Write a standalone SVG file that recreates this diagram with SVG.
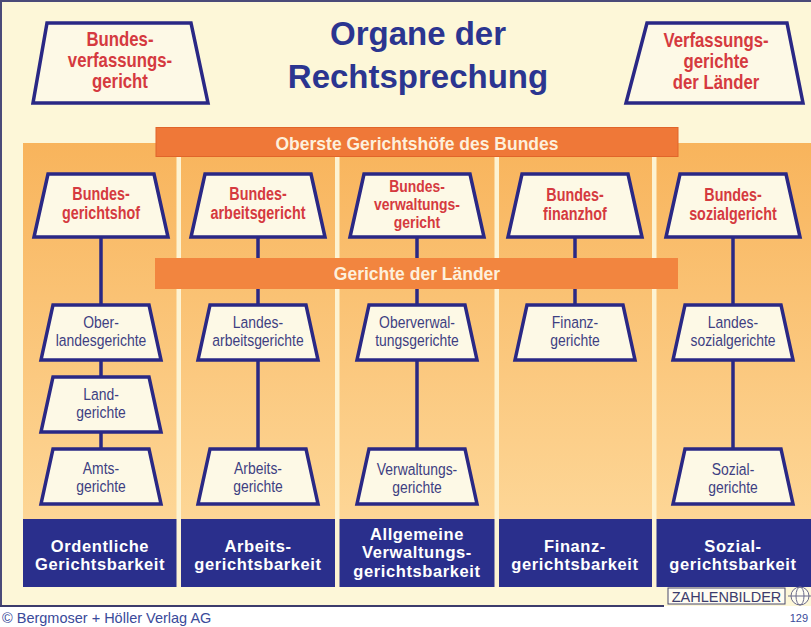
<svg xmlns="http://www.w3.org/2000/svg" width="811" height="627" viewBox="0 0 811 627">
<defs>
<linearGradient id="panelGrad" x1="0" y1="0" x2="0" y2="1">
<stop offset="0" stop-color="#f8b45c"/>
<stop offset="1" stop-color="#fdd696"/>
</linearGradient>
<style>
.node{fill:#fdf9e6;stroke:#2a2885;stroke-width:3.5;stroke-linejoin:miter}
.conn{stroke:#2a2885;stroke-width:3.5;fill:none}
.red{font-family:"Liberation Sans",Arial,sans-serif;font-weight:bold;fill:#d53a3f;text-anchor:middle}
.low{font-family:"Liberation Sans",Arial,sans-serif;fill:#3d3f82;text-anchor:middle;font-size:17px}
.bar{font-family:"Liberation Sans",Arial,sans-serif;font-weight:bold;fill:#fdf0dc;text-anchor:middle;font-size:17.5px}
.foot{font-family:"Liberation Sans",Arial,sans-serif;font-weight:bold;fill:#ffffff;text-anchor:middle;font-size:16.5px;letter-spacing:0.6px}
.sep{fill:#fdf3d2}
.blue{fill:#2a2f8c}
</style>
</defs>
<rect x="0" y="0" width="811" height="627" fill="#ffffff"/>
<rect x="1" y="1" width="810" height="605" fill="#fdf7d8"/>
<line x1="0" y1="1" x2="811" y2="1" stroke="#4a4a78" stroke-width="2"/>
<line x1="1" y1="0" x2="1" y2="607" stroke="#4a4a78" stroke-width="2"/>
<line x1="0" y1="606" x2="664" y2="606" stroke="#3c3c6c" stroke-width="2"/>

<g id="title" font-family="Liberation Sans, Arial, sans-serif" font-weight="bold" font-size="33" fill="#2b3590" text-anchor="middle">
<text x="418" y="45">Organe der</text>
<text x="418" y="88">Rechtsprechung</text>
</g>

<g id="panel">
<rect x="23" y="143" width="788" height="376" fill="url(#panelGrad)"/>
<rect class="sep" x="176.5" y="156" width="4.5" height="431"/>
<rect class="sep" x="335" y="156" width="4.5" height="431"/>
<rect class="sep" x="494.5" y="156" width="4.5" height="431"/>
<rect class="sep" x="652" y="156" width="4.5" height="431"/>
</g>

<g id="connectors">
<line class="conn" x1="101" y1="237" x2="101" y2="305"/>
<line class="conn" x1="101" y1="360" x2="101" y2="377"/>
<line class="conn" x1="101" y1="432" x2="101" y2="449"/>
<line class="conn" x1="258" y1="237" x2="258" y2="305"/>
<line class="conn" x1="258" y1="360" x2="258" y2="449"/>
<line class="conn" x1="417" y1="237" x2="417" y2="305"/>
<line class="conn" x1="417" y1="360" x2="417" y2="449"/>
<line class="conn" x1="575" y1="237" x2="575" y2="305"/>
<line class="conn" x1="733" y1="237" x2="733" y2="305"/>
<line class="conn" x1="733" y1="360" x2="733" y2="449"/>
</g>

<g id="bar-bund">
<rect x="156" y="127.5" width="522" height="29" fill="#ef7838" stroke="#e0652a" stroke-width="1"/>
<text class="bar" x="417" y="150">Oberste Gerichtshöfe des Bundes</text>
</g>
<g id="bar-laender">
<rect x="155" y="258" width="523" height="31" fill="#f2853f"/>
<text class="bar" x="417" y="280">Gerichte der Länder</text>
</g>

<g id="bverfg">
<polygon class="node" points="47,23 191,23 208,103 33,103"/>
<g transform="translate(120,0) scale(0.86,1)">
<text class="red" font-size="19.5" x="0" y="46">Bundes-</text>
<text class="red" font-size="19.5" x="0" y="67">verfassungs-</text>
<text class="red" font-size="19.5" x="0" y="88">gericht</text>
</g>
</g>
<g id="lverfg">
<polygon class="node" points="647,23 787,23 803,103 626,103"/>
<g transform="translate(716,0) scale(0.86,1)">
<text class="red" font-size="19.5" x="0" y="47">Verfassungs-</text>
<text class="red" font-size="19.5" x="0" y="68">gerichte</text>
<text class="red" font-size="19.5" x="0" y="89">der Länder</text>
</g>
</g>

<g id="bgh">
<polygon class="node" points="48,174 154,174 168,237 34,237"/>
<g transform="translate(101,0) scale(0.82,1)">
<text class="red" font-size="17.5" x="0" y="200">Bundes-</text>
<text class="red" font-size="17.5" x="0" y="219">gerichtshof</text>
</g>
</g>
<g id="bag">
<polygon class="node" points="205,174 311,174 325,237 191,237"/>
<g transform="translate(258,0) scale(0.82,1)">
<text class="red" font-size="17.5" x="0" y="200">Bundes-</text>
<text class="red" font-size="17.5" x="0" y="219">arbeitsgericht</text>
</g>
</g>
<g id="bverwg">
<polygon class="node" points="364,174 470,174 484,237 350,237"/>
<g transform="translate(417,0) scale(0.82,1)">
<text class="red" font-size="17" x="0" y="192">Bundes-</text>
<text class="red" font-size="17" x="0" y="210">verwaltungs-</text>
<text class="red" font-size="17" x="0" y="228">gericht</text>
</g>
</g>
<g id="bfh">
<polygon class="node" points="522,174 628,174 642,237 508,237"/>
<g transform="translate(575,0) scale(0.82,1)">
<text class="red" font-size="17.5" x="0" y="201">Bundes-</text>
<text class="red" font-size="17.5" x="0" y="220">finanzhof</text>
</g>
</g>
<g id="bsg">
<polygon class="node" points="680,174 786,174 800,237 666,237"/>
<g transform="translate(733,0) scale(0.82,1)">
<text class="red" font-size="17.5" x="0" y="201">Bundes-</text>
<text class="red" font-size="17.5" x="0" y="220">sozialgericht</text>
</g>
</g>

<g id="olg">
<polygon class="node" points="53,305 149,305 161,360 41,360"/>
<g transform="translate(101,0) scale(0.82,1)">
<text class="low" x="0" y="328">Ober-</text>
<text class="low" x="0" y="346">landesgerichte</text>
</g>
</g>
<g id="lg">
<polygon class="node" points="53,377 149,377 161,432 41,432"/>
<g transform="translate(101,0) scale(0.82,1)">
<text class="low" x="0" y="400">Land-</text>
<text class="low" x="0" y="418">gerichte</text>
</g>
</g>
<g id="ag">
<polygon class="node" points="53,449 149,449 161,504 41,504"/>
<g transform="translate(101,0) scale(0.82,1)">
<text class="low" x="0" y="474">Amts-</text>
<text class="low" x="0" y="492">gerichte</text>
</g>
</g>

<g id="lag">
<polygon class="node" points="210,305 306,305 318,360 198,360"/>
<g transform="translate(258,0) scale(0.82,1)">
<text class="low" x="0" y="328">Landes-</text>
<text class="low" x="0" y="346">arbeitsgerichte</text>
</g>
</g>
<g id="arbg">
<polygon class="node" points="210,449 306,449 318,504 198,504"/>
<g transform="translate(258,0) scale(0.82,1)">
<text class="low" x="0" y="474">Arbeits-</text>
<text class="low" x="0" y="492">gerichte</text>
</g>
</g>

<g id="ovg">
<polygon class="node" points="369,305 465,305 477,360 357,360"/>
<g transform="translate(417,0) scale(0.82,1)">
<text class="low" x="0" y="328">Oberverwal-</text>
<text class="low" x="0" y="346">tungsgerichte</text>
</g>
</g>
<g id="vg">
<polygon class="node" points="369,449 465,449 477,504 357,504"/>
<g transform="translate(417,0) scale(0.82,1)">
<text class="low" x="0" y="475">Verwaltungs-</text>
<text class="low" x="0" y="493">gerichte</text>
</g>
</g>

<g id="fg">
<polygon class="node" points="527,305 623,305 635,360 515,360"/>
<g transform="translate(575,0) scale(0.82,1)">
<text class="low" x="0" y="328">Finanz-</text>
<text class="low" x="0" y="346">gerichte</text>
</g>
</g>

<g id="lsg">
<polygon class="node" points="685,305 781,305 793,360 673,360"/>
<g transform="translate(733,0) scale(0.82,1)">
<text class="low" x="0" y="328">Landes-</text>
<text class="low" x="0" y="346">sozialgerichte</text>
</g>
</g>
<g id="sg">
<polygon class="node" points="685,449 781,449 793,504 673,504"/>
<g transform="translate(733,0) scale(0.82,1)">
<text class="low" x="0" y="475">Sozial-</text>
<text class="low" x="0" y="493">gerichte</text>
</g>
</g>

<g id="col-ordentlich">
<rect class="blue" x="23" y="519" width="153.5" height="68"/>
<text class="foot" x="100" y="551.5">Ordentliche</text>
<text class="foot" x="100" y="570">Gerichtsbarkeit</text>
</g>
<g id="col-arbeit">
<rect class="blue" x="181" y="519" width="154" height="68"/>
<text class="foot" x="258" y="551.5">Arbeits-</text>
<text class="foot" x="258" y="570">gerichtsbarkeit</text>
</g>
<g id="col-verwaltung">
<rect class="blue" x="339.5" y="519" width="155" height="68"/>
<text class="foot" x="417" y="539.5">Allgemeine</text>
<text class="foot" x="417" y="558">Verwaltungs-</text>
<text class="foot" x="417" y="576.5">gerichtsbarkeit</text>
</g>
<g id="col-finanz">
<rect class="blue" x="499" y="519" width="153" height="68"/>
<text class="foot" x="575" y="551.5">Finanz-</text>
<text class="foot" x="575" y="570">gerichtsbarkeit</text>
</g>
<g id="col-sozial">
<rect class="blue" x="656.5" y="519" width="154.5" height="68"/>
<text class="foot" x="733" y="551.5">Sozial-</text>
<text class="foot" x="733" y="570">gerichtsbarkeit</text>
</g>

<g id="logo">
<rect x="668" y="588" width="117" height="16" fill="#fffdf2" stroke="#4a4a6a" stroke-width="1"/>
<text x="726.5" y="601.5" font-family="Liberation Sans, Arial, sans-serif" font-size="14.5" fill="#3c3c6c" text-anchor="middle">ZAHLENBILDER</text>
<circle cx="800" cy="596" r="9" fill="#fffdf2" stroke="#6a6a8a" stroke-width="1"/>
<line x1="788" y1="596" x2="811" y2="596" stroke="#6a6a8a" stroke-width="1"/>
<ellipse cx="800" cy="596" rx="4" ry="9" fill="none" stroke="#6a6a8a" stroke-width="1"/>
</g>

<g id="footer">
<text x="2" y="623" font-family="Liberation Sans, Arial, sans-serif" font-size="14.5" fill="#3a4a9a">© Bergmoser + Höller Verlag AG</text>
<text x="808" y="622" font-family="Liberation Sans, Arial, sans-serif" font-size="11" fill="#3a4a9a" text-anchor="end">129</text>
</g>
</svg>
